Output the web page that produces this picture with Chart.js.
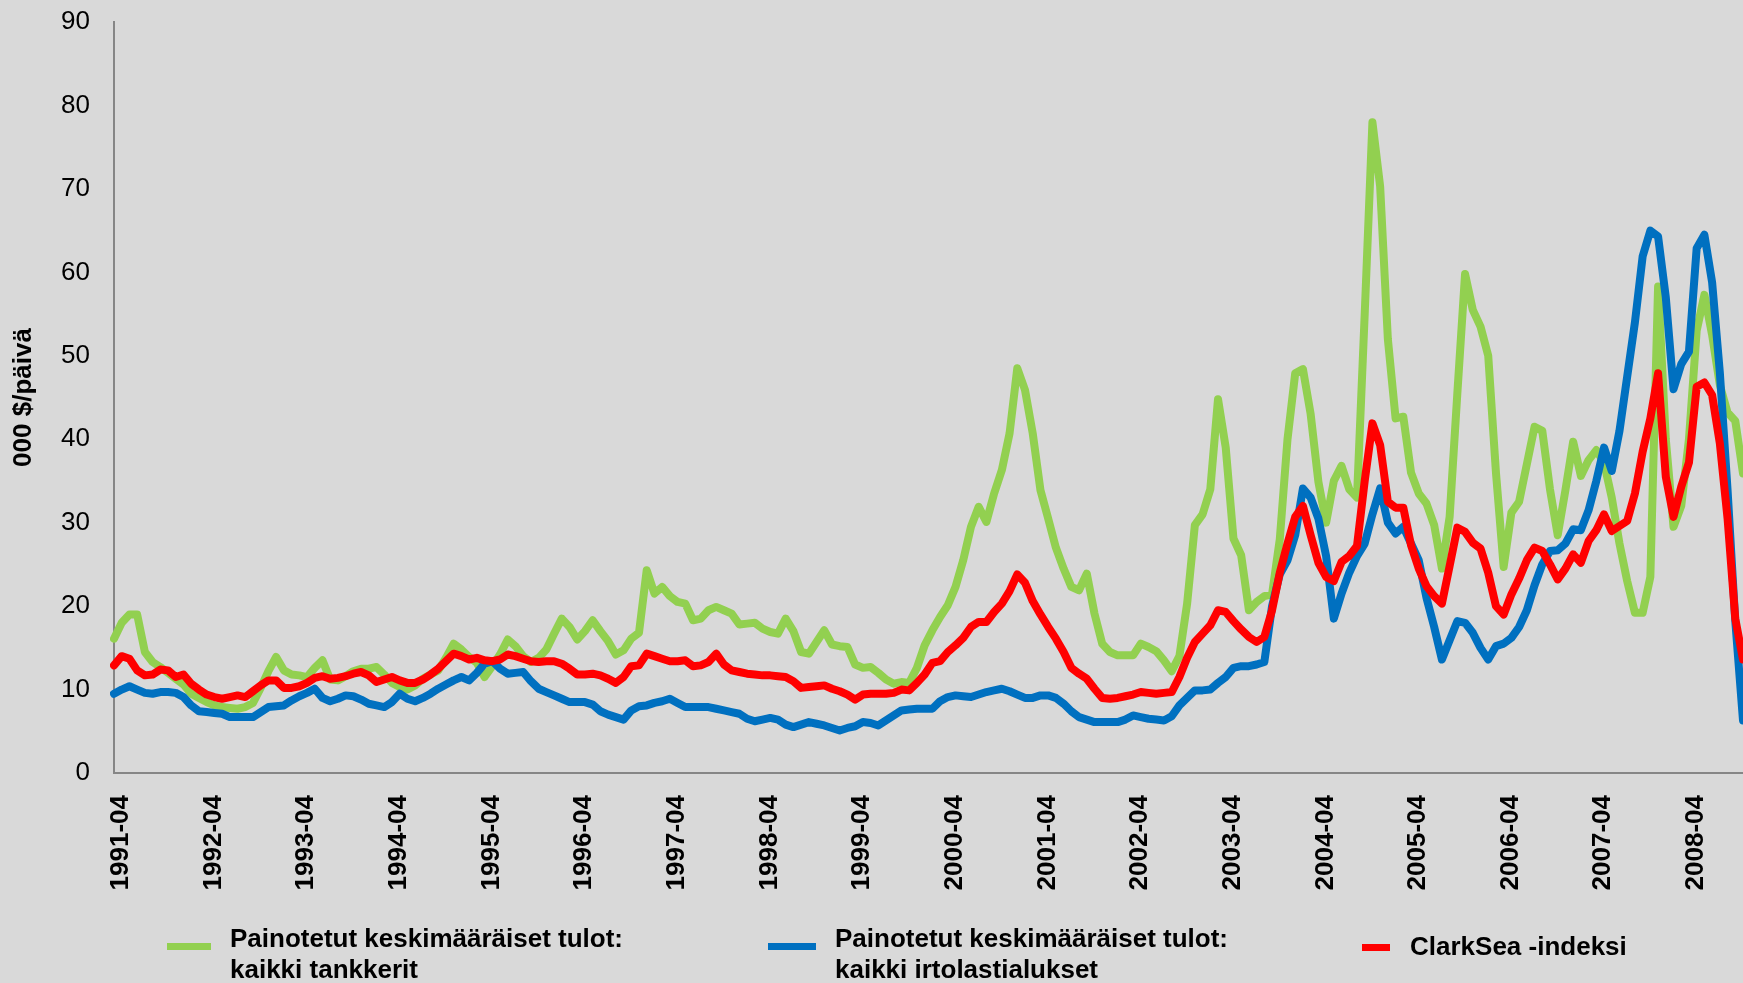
<!DOCTYPE html>
<html>
<head>
<meta charset="utf-8">
<script src="https://cdn.jsdelivr.net/npm/chart.js@4"></script>
<style>
  html, body { margin: 0; padding: 0; background: #d9d9d9; }
  #wrap { position: relative; width: 1743px; height: 983px; overflow: hidden; }
  #legend { position: absolute; left: 0; top: 0; width: 1743px; height: 983px; pointer-events: none;
            font-family: "Liberation Sans", Arial, sans-serif; font-weight: bold; font-size: 26px; color: #000; }
  .item { position: absolute; line-height: 31px; white-space: nowrap; }
  .swatch { position: absolute; height: 7px; }
</style>
</head>
<body>
<div id="wrap">
  <canvas id="myChart" width="1743" height="983"></canvas>
  <div id="legend">
    <div class="swatch" style="left:167px; top:943px; width:44px; background:#92d050;"></div>
    <div class="item" style="left:230px; top:923px;">Painotetut keskimääräiset tulot:<br>kaikki tankkerit</div>
    <div class="swatch" style="left:768px; top:943px; width:48px; background:#0070c0;"></div>
    <div class="item" style="left:835px; top:923px;">Painotetut keskimääräiset tulot:<br>kaikki irtolastialukset</div>
    <div class="swatch" style="left:1362px; top:944px; width:28px; background:#ff0000;"></div>
    <div class="item" style="left:1410px; top:931px;">ClarkSea -indeksi</div>
  </div>
</div>
<script>
// kuukaudet 1991-04 ... 2008-11
const startYear = 1991;
const startMonth = 4;
const monthCount = 212;

// 000 $/päivä, kaikki tankkerit (huhtikuusta maaliskuuhun per rivi)
const tankers = [
  16.1, 18, 19, 19, 14.5, 13.3, 12.7, 12, 11.3, 10.6, 9.5, 9.0,
  8.5, 8.1, 7.9, 7.8, 7.7, 7.9, 8.4, 10.2, 12.2, 13.9, 12.3, 11.8,
  11.7, 11.5, 12.6, 13.5, 11.2, 11.1, 11.6, 12.2, 12.5, 12.5, 12.7, 11.8,
  10.8, 10.3, 10.0, 10.5, 11.3, 11.8, 12.3, 13.8, 15.5, 14.8, 13.9, 13.2,
  11.5, 12.8, 14.2, 16.0, 15.2, 14.0, 13.3, 13.8, 14.8, 16.7, 18.5, 17.5,
  16.0, 17.0, 18.3, 17.0, 15.8, 14.2, 14.7, 16.1, 16.8, 24.3, 21.5, 22.3,
  21.2, 20.5, 20.3, 18.3, 18.5, 19.5, 19.9, 19.5, 19.1, 17.8, 17.9, 18.0,
  17.3, 16.9, 16.7, 18.5, 17.0, 14.5, 14.3, 15.7, 17.1, 15.4, 15.2, 15.1,
  13.0, 12.6, 12.7, 12.0, 11.2, 10.7, 10.9, 10.8, 12.6, 15.3, 17.1, 18.7,
  20.1, 22.3, 25.5, 29.5, 31.9, 30.1, 33.5, 36.3, 40.7, 48.5, 45.9, 40.7,
  33.9, 30.5, 27.0, 24.5, 22.3, 21.9, 23.9, 19.1, 15.5, 14.5, 14.1, 14.1,
  14.1, 15.5, 15.1, 14.6, 13.5, 12.2, 14.0, 20.3, 29.7, 31.0, 34.0, 44.8,
  39.0, 28.1, 26.1, 19.5, 20.5, 21.2, 21.4, 28.0, 40.0, 47.9, 48.4, 43.0,
  34.9, 30.0, 35.0, 36.8, 34.0, 33.0, 55.0, 78.0, 70.3, 52.0, 42.5, 42.7,
  36.0, 33.5, 32.3, 29.7, 24.5, 30.7, 45.5, 59.8, 55.5, 53.5, 50.0, 36.0,
  24.7, 31.2, 32.5, 37.0, 41.5, 41.0, 34.0, 28.5, 33.9, 39.7, 35.6, 37.5,
  38.7, 37.2, 33.0, 27.5, 23.0, 19.2, 19.2, 23.5, 58.3, 40.0, 29.5, 32.0,
  40.0, 53.0, 57.3, 52.5, 46.5, 43.2, 42.2, 35.9
];

// kaikki irtolastialukset
const bulkers = [
  9.5, 10.0, 10.4, 10.0, 9.6, 9.5, 9.7, 9.7, 9.6, 9.1, 8.1, 7.4,
  7.3, 7.2, 7.1, 6.7, 6.7, 6.7, 6.7, 7.3, 7.9, 8.0, 8.1, 8.7,
  9.2, 9.6, 10.1, 9.0, 8.6, 8.9, 9.3, 9.2, 8.8, 8.3, 8.1, 7.9,
  8.5, 9.5, 8.9, 8.6, 9.0, 9.5, 10.1, 10.6, 11.1, 11.5, 11.1, 12.0,
  13.1, 13.4, 12.5, 11.9, 12.0, 12.1, 11.0, 10.1, 9.7, 9.3, 8.9, 8.5,
  8.5, 8.5, 8.2, 7.4, 7.0, 6.7, 6.4, 7.5, 8.0, 8.1, 8.4, 8.6,
  8.9, 8.4, 7.9, 7.9, 7.9, 7.9, 7.7, 7.5, 7.3, 7.1, 6.5, 6.2,
  6.4, 6.6, 6.4, 5.8, 5.5, 5.8, 6.1, 5.9, 5.7, 5.4, 5.1, 5.4,
  5.6, 6.1, 6.0, 5.7, 6.3, 6.9, 7.5, 7.6, 7.7, 7.7, 7.7, 8.6,
  9.1, 9.3, 9.2, 9.1, 9.4, 9.7, 9.9, 10.1, 9.8, 9.4, 9.0, 9.0,
  9.3, 9.3, 9.0, 8.3, 7.4, 6.7, 6.4, 6.1, 6.1, 6.1, 6.1, 6.4,
  6.9, 6.7, 6.5, 6.4, 6.3, 6.8, 8.1, 9.0, 9.9, 9.9, 10.0, 10.8,
  11.5, 12.6, 12.8, 12.8, 13.0, 13.3, 20.0, 23.8, 25.5, 28.5, 34.1, 33.0,
  30.5, 26.0, 18.5, 21.5, 24.0, 26.0, 27.5, 31.0, 34.1, 30.0, 28.7, 29.5,
  27.5, 25.5, 21.0, 17.5, 13.6, 15.9, 18.2, 18.0, 16.8, 15.0, 13.6, 15.2,
  15.5, 16.2, 17.5, 19.5, 22.5, 25.0, 26.6, 26.7, 27.5, 29.2, 29.1, 31.5,
  35.0, 39.0, 36.2, 41.0, 47.5, 54.0, 61.9, 65.0, 64.3, 57.0, 46.0, 49.0,
  50.5, 62.9, 64.5, 58.8, 48.0, 33.9, 18.2, 6.3
];

// ClarkSea -indeksi
const clarksea = [
  12.9, 14.0, 13.7, 12.3, 11.7, 11.8, 12.4, 12.3, 11.5, 11.8, 10.7, 10.0,
  9.4, 9.1, 8.9, 9.1, 9.3, 9.1, 9.8, 10.5, 11.1, 11.1, 10.2, 10.2,
  10.4, 10.8, 11.4, 11.6, 11.3, 11.4, 11.6, 11.9, 12.1, 11.7, 10.9, 11.2,
  11.5, 11.1, 10.8, 10.8, 11.2, 11.8, 12.5, 13.4, 14.3, 14.0, 13.6, 13.8,
  13.5, 13.4, 13.6, 14.2, 14.0, 13.7, 13.4, 13.3, 13.4, 13.4, 13.1, 12.5,
  11.8, 11.8, 11.9, 11.7, 11.3, 10.8, 11.5, 12.8, 12.9, 14.3, 14.0, 13.7,
  13.4, 13.4, 13.5, 12.8, 12.9, 13.3, 14.3, 13.0, 12.3, 12.1, 11.9, 11.8,
  11.7, 11.7, 11.6, 11.5, 11.0, 10.2, 10.3, 10.4, 10.5, 10.1, 9.8, 9.4,
  8.8, 9.4, 9.5, 9.5, 9.5, 9.6, 10.0, 9.9, 10.8, 11.8, 13.2, 13.4,
  14.5, 15.3, 16.2, 17.5, 18.1, 18.1, 19.3, 20.3, 21.8, 23.8, 22.8, 20.6,
  19.0, 17.5, 16.1, 14.5, 12.6, 11.9, 11.3, 10.1, 9.0, 8.9, 9.0, 9.2,
  9.4, 9.7, 9.6, 9.5, 9.6, 9.7, 11.5, 13.8, 15.7, 16.7, 17.7, 19.5,
  19.3, 18.2, 17.2, 16.3, 15.7, 16.3, 19.5, 24.0, 27.5, 30.7, 32.0, 28.5,
  25.2, 23.5, 23.0, 25.3, 26.0, 27.2, 35.0, 41.9, 39.3, 32.5, 31.8, 31.8,
  27.3, 24.5, 22.4, 21.2, 20.3, 24.8, 29.4, 28.9, 27.6, 26.9, 24.0, 20.0,
  19.0, 21.4, 23.3, 25.5, 27.0, 26.6, 25.0, 23.2, 24.5, 26.2, 25.2, 27.8,
  29.1, 31.0, 29.0, 29.6, 30.2, 33.5, 38.5, 42.5, 47.9, 35.5, 30.7, 34.3,
  37.2, 46.3, 46.8, 45.3, 39.5, 30.5, 18.5, 13.6
];

const yTicks = [0, 10, 20, 30, 40, 50, 60, 70, 80, 90];

const labels = [];
for (let i = 0; i < monthCount; i++) {
    const t = startMonth - 1 + i;
    const y = startYear + Math.floor(t / 12);
    const m = (t % 12) + 1;
    labels.push(y + '-' + (m < 10 ? '0' + m : m));
}

const font = '"Liberation Sans", Arial, sans-serif';

const lineStyle = (color, order) => ({
    borderColor: color,
    backgroundColor: color,
    borderWidth: 8,
    pointRadius: 0,
    tension: 0,
    borderJoinStyle: 'round',
    borderCapStyle: 'round',
    order: order
});

const data = {
    labels: labels,
    datasets: [
        Object.assign({ label: 'Painotetut keskimääräiset tulot: kaikki tankkerit', data: tankers }, lineStyle('#92d050', 2)),
        Object.assign({ label: 'Painotetut keskimääräiset tulot: kaikki irtolastialukset', data: bulkers }, lineStyle('#0070c0', 1)),
        Object.assign({ label: 'ClarkSea -indeksi', data: clarksea }, lineStyle('#ff0000', 0))
    ]
};

const config = {
    type: 'line',
    data: data,
    options: {
        responsive: false,
        animation: false,
        layout: { padding: { top: 22, left: 0, right: 0, bottom: 0 } },
        plugins: {
            legend: { display: false },
            tooltip: { enabled: false }
        },
        scales: {
            x: {
                grid: { display: false, drawTicks: false },
                border: { display: true, color: '#868686', width: 2 },
                ticks: {
                    autoSkip: false,
                    maxRotation: 90,
                    minRotation: 90,
                    padding: 22,
                    labelOffset: 7,
                    color: '#000',
                    font: { family: font, size: 26, weight: 'bold' },
                    callback: function (value, index) {
                        return index % 12 === 0 ? labels[index] : '';
                    }
                },
                afterFit: function (scale) {
                    scale.height = 210;
                    scale.paddingLeft = 0;
                    scale.paddingRight = 0;
                }
            },
            y: {
                min: 0,
                max: 90,
                afterBuildTicks: function (scale) {
                    scale.ticks = yTicks.map(v => ({ value: v }));
                },
                grid: { display: false, drawTicks: false },
                border: { display: true, color: '#868686', width: 2 },
                ticks: {
                    padding: 24,
                    color: '#000',
                    font: { family: font, size: 26 }
                },
                title: {
                    display: true,
                    text: '000 $/päivä',
                    color: '#000',
                    padding: { top: 8, bottom: 0 },
                    font: { family: font, size: 26, weight: 'bold' }
                },
                afterFit: function (scale) {
                    scale.width = 114;
                    scale.paddingTop = 0;
                    scale.paddingBottom = 0;
                }
            }
        }
    }
};

const myChart = new Chart(document.getElementById('myChart'), config);
</script>
</body>
</html>
